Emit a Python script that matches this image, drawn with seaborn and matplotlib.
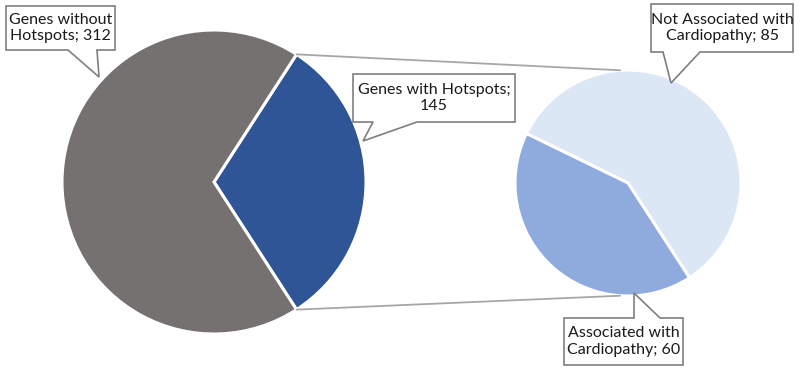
import numpy as np
import matplotlib
matplotlib.use("Agg")
import matplotlib.pyplot as plt
import seaborn as sns
from matplotlib.patches import Polygon

# data
overall_labels = ["Genes with Hotspots", "Genes without Hotspots"]
overall_counts = [145, 312]
overall_colors = ["#2F5597", "#767171"]

detail_labels = ["Not Associated with Cardiopathy", "Associated with Cardiopathy"]
detail_counts = [85, 60]
detail_colors = ["#DCE7F5", "#8FAADC"]

# callout text (line breaks as in the original)
callout_text = [
    "Genes with Hotspots;\n145",
    "Genes without\nHotspots; 312",
    "Not Associated with\nCardiopathy; 85",
    "Associated with\nCardiopathy; 60",
]

W, H = 800, 369

sns.set_theme(style="white")
plt.rcParams["font.family"] = ["Lato", "DejaVu Sans"]

fig = plt.figure(figsize=(W / 100, H / 100), dpi=100)
ax = fig.add_axes([0, 0, 1, 1])


def Y(y):
    # image rows -> axis y
    return H - y


# left pie: the hotspot slice is centred on the right side
left_c, left_r = (214, Y(182)), 152
half = 360 * overall_counts[0] / sum(overall_counts) / 2
ax.pie(overall_counts, colors=overall_colors, startangle=-half, counterclock=True,
       center=left_c, radius=left_r, frame=True,
       wedgeprops=dict(edgecolor="white", linewidth=2.2))

# right pie: breakdown of the hotspot genes
right_c, right_r = (628, Y(183)), 113
ax.pie(detail_counts, colors=detail_colors, startangle=-57, counterclock=True,
       center=right_c, radius=right_r, frame=True,
       wedgeprops=dict(edgecolor="white", linewidth=2.2))

ax.set_xlim(0, W)
ax.set_ylim(0, H)
ax.set_aspect("equal")
ax.axis("off")

# connector lines between the pies
for a_left, a_right in [(half, 94), (-half, 266)]:
    p0 = (left_c[0] + left_r * np.cos(np.radians(a_left)),
          left_c[1] + left_r * np.sin(np.radians(a_left)))
    p1 = (right_c[0] + right_r * np.cos(np.radians(a_right)),
          right_c[1] + right_r * np.sin(np.radians(a_right)))
    ax.plot([p0[0], p1[0]], [p0[1], p1[1]], color="#A6A6A6", lw=1.3, zorder=1)


def callout(text, box, tail, tip, side="bottom"):
    x0, y0, x1, y1 = box
    tx0, tx1 = tail
    if side == "bottom":
        pts = [(x0, y0), (x1, y0), (x1, y1), (tx1, y1), tip, (tx0, y1), (x0, y1)]
    else:
        pts = [(x0, y0), (tx0, y0), tip, (tx1, y0), (x1, y0), (x1, y1), (x0, y1)]
    pts = [(px, Y(py)) for px, py in pts]
    ax.add_patch(Polygon(pts, closed=True, facecolor="white", edgecolor="#7F7F7F",
                         lw=1.2, zorder=5, joinstyle="miter"))
    ax.text((x0 + x1) / 2, Y((y0 + y1) / 2), text, ha="center", va="center",
            fontsize=11.5, color="#1A1A1A", linespacing=1.2, zorder=6)


callout(callout_text[0], (353, 74, 515, 122), (373, 417), (363, 141))
callout(callout_text[1], (6, 6, 115, 50), (68, 97), (99, 77))
callout(callout_text[2], (651, 4, 793, 52), (663, 700), (671, 83))
callout(callout_text[3], (564, 318, 683, 365), (634, 660), (634, 293), side="top")

fig.savefig("out.png", dpi=100)
